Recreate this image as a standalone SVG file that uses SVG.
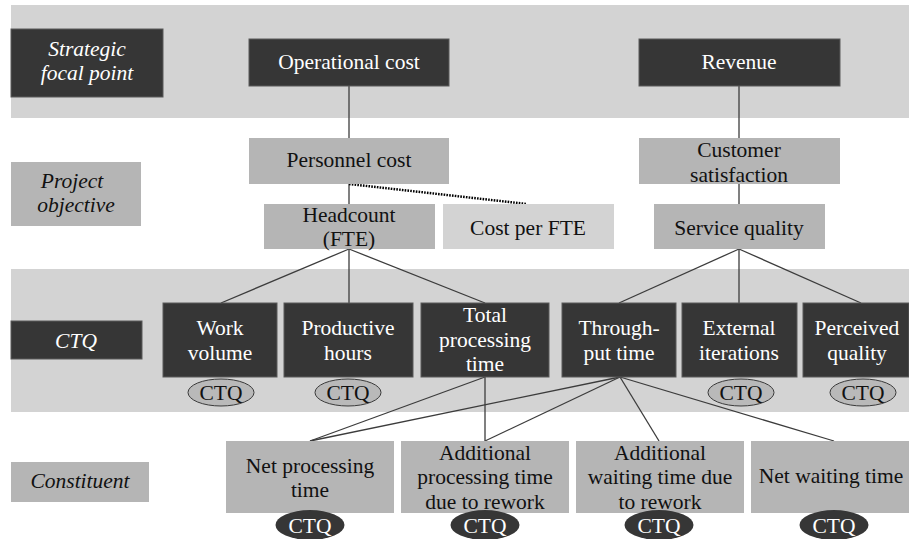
<svg xmlns="http://www.w3.org/2000/svg" width="909" height="539" viewBox="0 0 909 539" font-family="Liberation Serif, Tinos, DejaVu Serif, serif">
  <style>
    text { font-family: "Liberation Serif", Tinos, "DejaVu Serif", serif; font-size: 21.5px; text-anchor: middle; }
    .band { fill: #d3d3d3; }
    .dark rect { fill: #363636; stroke: #5a5a5a; stroke-width: 1; }
    .dark text { fill: #ffffff; }
    .mid rect { fill: #b5b5b5; }
    .mid text { fill: #111111; }
    .light rect { fill: #d3d3d3; }
    .light text { fill: #111111; }
    .lbl text { font-style: italic; }
    .tag-l ellipse { fill: #b9b9b9; stroke: #3a3a3a; stroke-width: 1; }
    .tag-l text { fill: #111111; }
    .tag-d ellipse { fill: #363636; }
    .tag-d text { fill: #ffffff; }
    #connectors line { stroke: #3c3c3c; stroke-width: 1.3; }
    #connectors .dotted { stroke: #000000; stroke-width: 2.5; stroke-dasharray: 1.6 1.2; }
  </style>

  <!-- level bands -->
  <rect class="band" x="11" y="5" width="898" height="113"/>
  <rect class="band" x="11" y="269" width="898" height="143"/>

  <!-- connectors -->
  <g id="connectors">
    <line x1="349" y1="86" x2="349" y2="138"/>
    <line x1="739" y1="86" x2="739" y2="138"/>
    <line x1="349" y1="184" x2="349" y2="204"/>
    <line x1="739" y1="184" x2="739" y2="204"/>
    <line class="dotted" x1="349" y1="184" x2="527" y2="204"/>
    <line x1="349" y1="249" x2="221" y2="303"/>
    <line x1="349" y1="249" x2="349" y2="303"/>
    <line x1="349" y1="249" x2="485" y2="303"/>
    <line x1="739" y1="249" x2="619" y2="303"/>
    <line x1="739" y1="249" x2="739" y2="303"/>
    <line x1="739" y1="249" x2="861" y2="303"/>
    <line x1="485" y1="377" x2="310" y2="441"/>
    <line x1="485" y1="377" x2="485" y2="441"/>
    <line x1="620" y1="377" x2="310" y2="441"/>
    <line x1="620" y1="377" x2="485" y2="441"/>
    <line x1="620" y1="377" x2="659" y2="441"/>
    <line x1="620" y1="377" x2="834" y2="441"/>
  </g>

  <!-- level labels -->
  <g id="lbl-strategic" class="dark lbl">
    <rect x="11" y="29" width="152" height="68"/>
    <text x="87" y="56">Strategic</text>
    <text x="87" y="80">focal point</text>
  </g>
  <g id="lbl-objective" class="mid lbl">
    <rect x="11" y="162" width="130" height="64"/>
    <text x="72" y="188">Project</text>
    <text x="76" y="212">objective</text>
  </g>
  <g id="lbl-ctq" class="dark lbl">
    <rect x="11" y="321" width="131" height="38"/>
    <text x="76" y="348">CTQ</text>
  </g>
  <g id="lbl-constituent" class="mid lbl">
    <rect x="11" y="462" width="138" height="40"/>
    <text x="80" y="488">Constituent</text>
  </g>

  <!-- strategic focal points -->
  <g id="operational-cost" class="dark">
    <rect x="249" y="39" width="200" height="47"/>
    <text x="349" y="69">Operational cost</text>
  </g>
  <g id="revenue" class="dark">
    <rect x="639" y="39" width="201" height="47"/>
    <text x="739" y="69">Revenue</text>
  </g>

  <!-- project objectives -->
  <g id="personnel-cost" class="mid">
    <rect x="249" y="138" width="200" height="46"/>
    <text x="349" y="167">Personnel cost</text>
  </g>
  <g id="customer-satisfaction" class="mid">
    <rect x="639" y="138" width="201" height="46"/>
    <text x="739" y="157">Customer</text>
    <text x="739" y="182">satisfaction</text>
  </g>
  <g id="headcount" class="mid">
    <rect x="264" y="204" width="171" height="45"/>
    <text x="349" y="222">Headcount</text>
    <text x="349" y="246">(FTE)</text>
  </g>
  <g id="cost-per-fte" class="light">
    <rect x="443" y="204" width="171" height="45"/>
    <text x="528" y="235">Cost per FTE</text>
  </g>
  <g id="service-quality" class="mid">
    <rect x="654" y="204" width="171" height="45"/>
    <text x="739" y="235">Service quality</text>
  </g>

  <!-- CTQs -->
  <g id="work-volume" class="dark">
    <rect x="163" y="303" width="114" height="74"/>
    <text x="220" y="335">Work</text>
    <text x="220" y="360">volume</text>
  </g>
  <g id="productive-hours" class="dark">
    <rect x="284" y="303" width="129" height="74"/>
    <text x="348" y="335">Productive</text>
    <text x="348" y="360">hours</text>
  </g>
  <g id="total-processing-time" class="dark">
    <rect x="421" y="303" width="128" height="74"/>
    <text x="485" y="322">Total</text>
    <text x="485" y="347">processing</text>
    <text x="485" y="371">time</text>
  </g>
  <g id="throughput-time" class="dark">
    <rect x="562" y="303" width="114" height="74"/>
    <text x="619" y="335">Through-</text>
    <text x="619" y="360">put time</text>
  </g>
  <g id="external-iterations" class="dark">
    <rect x="682" y="303" width="115" height="74"/>
    <text x="739" y="335">External</text>
    <text x="739" y="360">iterations</text>
  </g>
  <g id="perceived-quality" class="dark">
    <rect x="803" y="303" width="106" height="74"/>
    <text x="857" y="335">Perceived</text>
    <text x="857" y="360">quality</text>
  </g>

  <!-- CTQ tags on CTQ level -->
  <g id="tag-work-volume" class="tag-l">
    <ellipse cx="221" cy="392.5" rx="33" ry="13.5"/>
    <text x="221" y="400">CTQ</text>
  </g>
  <g id="tag-productive-hours" class="tag-l">
    <ellipse cx="348" cy="392.5" rx="33" ry="13.5"/>
    <text x="348" y="400">CTQ</text>
  </g>
  <g id="tag-external-iterations" class="tag-l">
    <ellipse cx="741" cy="392.5" rx="33" ry="13.5"/>
    <text x="741" y="400">CTQ</text>
  </g>
  <g id="tag-perceived-quality" class="tag-l">
    <ellipse cx="863" cy="392.5" rx="33" ry="13.5"/>
    <text x="863" y="400">CTQ</text>
  </g>

  <!-- constituents -->
  <g id="net-processing-time" class="mid">
    <rect x="226" y="441" width="168" height="72"/>
    <text x="310" y="473">Net processing</text>
    <text x="310" y="497">time</text>
  </g>
  <g id="additional-processing-time" class="mid">
    <rect x="401" y="441" width="168" height="72"/>
    <text x="485" y="460">Additional</text>
    <text x="485" y="484">processing time</text>
    <text x="485" y="509">due to rework</text>
  </g>
  <g id="additional-waiting-time" class="mid">
    <rect x="576" y="441" width="168" height="72"/>
    <text x="660" y="460">Additional</text>
    <text x="660" y="484">waiting time due</text>
    <text x="660" y="509">to rework</text>
  </g>
  <g id="net-waiting-time" class="mid">
    <rect x="751" y="441" width="158" height="72"/>
    <text x="831" y="483">Net waiting time</text>
  </g>

  <!-- CTQ tags on constituents -->
  <g id="tag-net-processing" class="tag-d">
    <ellipse cx="310" cy="525" rx="34.5" ry="15"/>
    <text x="310" y="533">CTQ</text>
  </g>
  <g id="tag-additional-processing" class="tag-d">
    <ellipse cx="485" cy="525" rx="34.5" ry="15"/>
    <text x="485" y="533">CTQ</text>
  </g>
  <g id="tag-additional-waiting" class="tag-d">
    <ellipse cx="659" cy="525" rx="34.5" ry="15"/>
    <text x="659" y="533">CTQ</text>
  </g>
  <g id="tag-net-waiting" class="tag-d">
    <ellipse cx="834" cy="525" rx="34.5" ry="15"/>
    <text x="834" y="533">CTQ</text>
  </g>
</svg>
